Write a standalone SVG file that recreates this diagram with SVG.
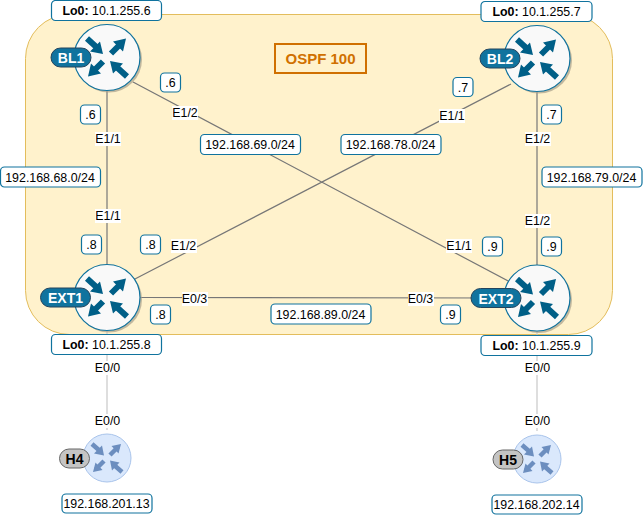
<svg xmlns="http://www.w3.org/2000/svg" width="643" height="515" viewBox="0 0 643 515">
<style>
text{font-family:"Liberation Sans",Arial,sans-serif;font-size:12.4px;fill:#000;text-anchor:middle}
.lb{fill:#fff;stroke:#10739e;stroke-width:1.2}
.bg{fill:#fff}
.c{stroke:#777;stroke-width:1.2;fill:none}
.c2{stroke:#c8c8c8;stroke-width:1.2;fill:none}
.tag{font-weight:bold;fill:#fff;font-size:14px}
.pill{fill:#10739e;stroke:#23445d;stroke-width:1}
.a{stroke:#005f87;stroke-width:6;fill:none}
.ah{fill:#005f87}
.la{stroke:#6c8ebf;stroke-width:4.500;fill:none}
.lah{fill:#6c8ebf}
</style>
<defs>
<g id="r">
<circle cx="2" cy="2" r="33" fill="#a8a08a" opacity="0.7"/>
<circle r="33" fill="#f9f9f9" stroke="#10739e" stroke-width="1.2"/>
<path class="a" d="M-20-19L-9-9M4-4L14-14M-4 4L-14 14M20 19L9 9"/>
<path class="ah" d="M-4-3.500L-17-6L-7-16ZM19-19L16-6L6-16ZM-19 19L-16 6L-6 16ZM3 3.500L16 6L6 16Z"/>
</g>
<g id="h">
<circle r="24" fill="#dae8fc" stroke="#a9c4eb" stroke-width="1"/>
<path class="la" d="M-15-14L-7-7M3-3L11-11M-3 3L-11 11M15 14L7 7"/>
<path class="lah" d="M-3-2.500L-13-4.500L-5-12.500ZM14-14L11.500-4.500L4.500-12ZM-14 14L-11.500 4.500L-4.500 12ZM3 2.500L12.500 4.500L5 12.500Z"/>
</g>
</defs>
<rect id="area" x="25.5" y="14.5" width="587" height="320" rx="44" fill="#fff2cc" stroke="#e3bd5c" stroke-width="1"/>
<g id="ospf"><rect x="275" y="44" width="91" height="29" fill="#fff2cc" stroke="#d07000" stroke-width="2"/><text x="320.500" y="64" style="font-size:15px;font-weight:bold;fill:#d07000">OSPF 100</text></g>
<g id="connectors">
<path class="c" d="M107 90V264M537 91V265M133 82L510 282M133 280L511 84M140 297.500L504 298"/>
<path class="c2" d="M107 330V430M537 331V431"/>
</g>
<g id="BL1"><use href="#r" x="107" y="57.500"/><rect class="pill" x="51" y="48" width="40" height="19" rx="9.500"/><text class="tag" x="71" y="63">BL1</text></g>
<g id="BL2"><use href="#r" x="537" y="58.500"/><rect class="pill" x="480" y="49" width="40" height="19" rx="9.500"/><text class="tag" x="500" y="64">BL2</text></g>
<g id="EXT1"><use href="#r" x="107" y="297.500"/><rect class="pill" x="40.500" y="288" width="50" height="19" rx="9.500"/><text class="tag" x="65.500" y="303">EXT1</text></g>
<g id="EXT2"><use href="#r" x="537" y="298"/><rect class="pill" x="471" y="288.500" width="50" height="19" rx="9.500"/><text class="tag" x="496" y="303.500">EXT2</text></g>
<g id="H4"><use href="#h" x="107" y="458"/><rect x="59.500" y="449" width="30" height="19" rx="9.500" fill="#c4c4c4" stroke="#666"/><text x="74.500" y="464" style="font-weight:bold;font-size:14px">H4</text></g>
<g id="H5"><use href="#h" x="537" y="459"/><rect x="493" y="450" width="30" height="19" rx="9.500" fill="#c4c4c4" stroke="#666"/><text x="508" y="465" style="font-weight:bold;font-size:14px">H5</text></g>
<g id="loopbacks">
<rect class="lb" x="51.500" y="0.500" width="110" height="20" rx="4"/><text x="106.500" y="15"><tspan font-weight="bold">Lo0:</tspan> 10.1.255.6</text>
<rect class="lb" x="481" y="1.500" width="111" height="20" rx="4"/><text x="536.500" y="16"><tspan font-weight="bold">Lo0:</tspan> 10.1.255.7</text>
<rect class="lb" x="51.500" y="334.500" width="110" height="20" rx="4"/><text x="106.500" y="349"><tspan font-weight="bold">Lo0:</tspan> 10.1.255.8</text>
<rect class="lb" x="481" y="335.500" width="111" height="20" rx="4"/><text x="536.500" y="350"><tspan font-weight="bold">Lo0:</tspan> 10.1.255.9</text>
</g>
<g id="subnets">
<rect class="lb" x="0.500" y="167" width="100" height="20" rx="4"/><text x="50" y="181.500">192.168.68.0/24</text>
<rect class="lb" x="200.500" y="134.500" width="100" height="20" rx="4"/><text x="250" y="149">192.168.69.0/24</text>
<rect class="lb" x="341" y="134.500" width="100" height="20" rx="4"/><text x="390.500" y="149">192.168.78.0/24</text>
<rect class="lb" x="542" y="167" width="100" height="20" rx="4"/><text x="591.500" y="181.500">192.168.79.0/24</text>
<rect class="lb" x="271" y="304" width="100" height="20" rx="4"/><text x="320.500" y="318.500">192.168.89.0/24</text>
<rect class="lb" x="62" y="494" width="90" height="19" rx="4"/><text x="106.500" y="508">192.168.201.13</text>
<rect class="lb" x="492" y="495" width="90" height="19" rx="4"/><text x="536.500" y="509">192.168.202.14</text>
</g>
<g id="ips">
<rect class="lb" x="160.500" y="73" width="20" height="19" rx="4"/><text x="170.500" y="87">.6</text>
<rect class="lb" x="80.500" y="105" width="20" height="19" rx="4"/><text x="90.500" y="119">.6</text>
<rect class="lb" x="453" y="77.500" width="20" height="19" rx="4"/><text x="463" y="91.500">.7</text>
<rect class="lb" x="541.500" y="105" width="20" height="19" rx="4"/><text x="551.500" y="119">.7</text>
<rect class="lb" x="81.500" y="235" width="20" height="19" rx="4"/><text x="91.500" y="249">.8</text>
<rect class="lb" x="140.500" y="235" width="20" height="19" rx="4"/><text x="150.500" y="249">.8</text>
<rect class="lb" x="150.500" y="305" width="20" height="19" rx="4"/><text x="160.500" y="319">.8</text>
<rect class="lb" x="482.500" y="237" width="20" height="19" rx="4"/><text x="492.500" y="251">.9</text>
<rect class="lb" x="541.500" y="237" width="20" height="19" rx="4"/><text x="551.500" y="251">.9</text>
<rect class="lb" x="440.500" y="305" width="20" height="19" rx="4"/><text x="450.500" y="319">.9</text>
</g>
<g id="ports">
<rect class="bg" x="95" y="132" width="26" height="14"/><text x="108" y="143">E1/1</text>
<rect class="bg" x="95" y="209" width="26" height="14"/><text x="108" y="220">E1/1</text>
<rect class="bg" x="172" y="106" width="26" height="14"/><text x="185" y="117">E1/2</text>
<rect class="bg" x="439" y="109" width="26" height="14"/><text x="452" y="120">E1/1</text>
<rect class="bg" x="525" y="132" width="26" height="14"/><text x="537.500" y="143">E1/2</text>
<rect class="bg" x="525" y="214" width="26" height="14"/><text x="537.500" y="225">E1/2</text>
<rect class="bg" x="171" y="239" width="26" height="14"/><text x="183.500" y="250">E1/2</text>
<rect class="bg" x="446" y="239" width="26" height="14"/><text x="459" y="250">E1/1</text>
<rect class="bg" x="182" y="292" width="26" height="14"/><text x="194.500" y="303">E0/3</text>
<rect class="bg" x="408" y="292" width="26" height="14"/><text x="420.500" y="303">E0/3</text>
<rect class="bg" x="95" y="361" width="26" height="14"/><text x="107.500" y="372">E0/0</text>
<rect class="bg" x="95" y="414" width="26" height="14"/><text x="107.500" y="425">E0/0</text>
<rect class="bg" x="525" y="361" width="26" height="14"/><text x="537.500" y="372">E0/0</text>
<rect class="bg" x="525" y="414" width="26" height="14"/><text x="537.500" y="425">E0/0</text>
</g>
</svg>
